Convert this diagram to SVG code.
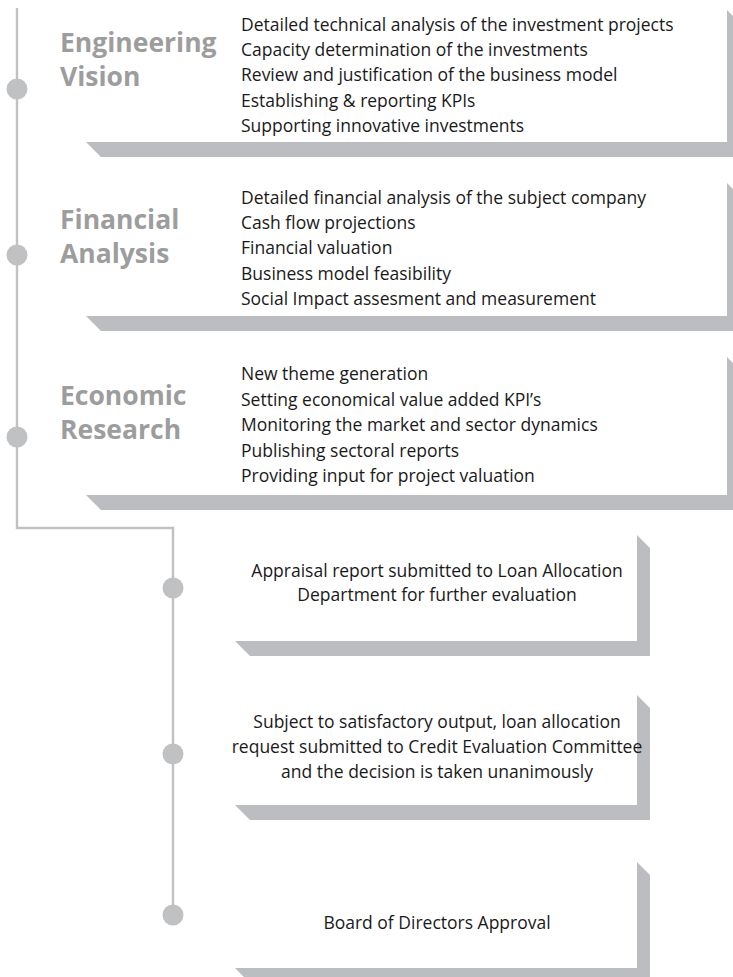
<svg xmlns="http://www.w3.org/2000/svg" width="733" height="977" viewBox="0 0 733 977">
<style>
.sh{fill:#bcbdc0}
.ln{fill:none;stroke:#c0c1c3;stroke-width:2.4}
.dot{fill:#c0c1c3}
.hd{font-family:"Open Sans","Liberation Sans",sans-serif;font-weight:700;font-size:26.5px;fill:#9d9d9d}
.tx{font-family:"Open Sans","Liberation Sans",sans-serif;font-size:17.5px;fill:#1a1a1a}
.c{text-anchor:middle}
</style>
<rect width="733" height="977" fill="#fff"/>
<g id="connectors">
<polyline class="ln" points="17,8 17,528 173,528 173,915"/>
<circle class="dot" cx="17" cy="89" r="10.5"/>
<circle class="dot" cx="17" cy="255" r="10.5"/>
<circle class="dot" cx="17" cy="437" r="10.5"/>
<circle class="dot" cx="173" cy="588" r="10.5"/>
<circle class="dot" cx="173" cy="754" r="10.5"/>
<circle class="dot" cx="173" cy="915" r="10.5"/>
</g>
<g id="engineering">
<polygon class="sh" points="86,142 727,142 727,10 740,23 740,157 101,157"/>
<text class="hd" x="60" y="52">Engineering</text>
<text class="hd" x="60" y="86">Vision</text>
<text class="tx" x="241" y="31">Detailed technical analysis of the investment projects</text>
<text class="tx" x="241" y="56.2">Capacity determination of the investments</text>
<text class="tx" x="241" y="81.4">Review and justification of the business model</text>
<text class="tx" x="241" y="106.6">Establishing &amp; reporting KPIs</text>
<text class="tx" x="241" y="131.8">Supporting innovative investments</text>
</g>
<g id="financial">
<polygon class="sh" points="86,316 727,316 727,183 740,196 740,331 101,331"/>
<text class="hd" x="60" y="229">Financial</text>
<text class="hd" x="60" y="263">Analysis</text>
<text class="tx" x="241" y="203.5">Detailed financial analysis of the subject company</text>
<text class="tx" x="241" y="228.9">Cash flow projections</text>
<text class="tx" x="241" y="254.3">Financial valuation</text>
<text class="tx" x="241" y="279.7">Business model feasibility</text>
<text class="tx" x="241" y="305.1">Social Impact assesment and measurement</text>
</g>
<g id="economic">
<polygon class="sh" points="86,495 727,495 727,357 740,370 740,510 101,510"/>
<text class="hd" x="60" y="405">Economic</text>
<text class="hd" x="60" y="439">Research</text>
<text class="tx" x="241" y="380">New theme generation</text>
<text class="tx" x="241" y="405.6">Setting economical value added KPI’s</text>
<text class="tx" x="241" y="431.2">Monitoring the market and sector dynamics</text>
<text class="tx" x="241" y="456.8">Publishing sectoral reports</text>
<text class="tx" x="241" y="482.4">Providing input for project valuation</text>
</g>
<g id="appraisal">
<polygon class="sh" points="235,641 637,641 637,535 650,548 650,656 250,656"/>
<text class="tx c" x="437" y="577">Appraisal report submitted to Loan Allocation</text>
<text class="tx c" x="437" y="601">Department for further evaluation</text>
</g>
<g id="committee">
<polygon class="sh" points="235,805 637,805 637,695 650,708 650,820 250,820"/>
<text class="tx c" x="437" y="728">Subject to satisfactory output, loan allocation</text>
<text class="tx c" x="437" y="753">request submitted to Credit Evaluation Committee</text>
<text class="tx c" x="437" y="778">and the decision is taken unanimously</text>
</g>
<g id="board">
<polygon class="sh" points="235,968 637,968 637,862 650,875 650,983 250,983"/>
<text class="tx c" x="437" y="929">Board of Directors Approval</text>
</g>
</svg>
